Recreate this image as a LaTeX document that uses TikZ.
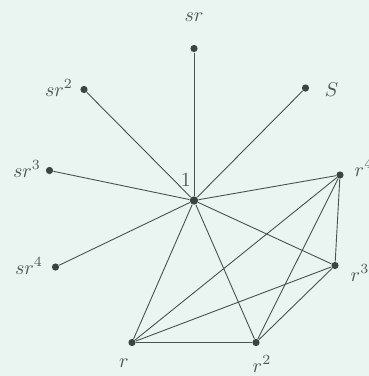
\documentclass[tikz,border=0pt]{standalone}
\usepackage{amsmath}
\usepackage{xcolor}
\definecolor{Canvas}{HTML}{EAF5F2}
\definecolor{Dot}{HTML}{3A4542}
\definecolor{Edge}{HTML}{4A524F}
\definecolor{Text}{HTML}{4E5856}

\begin{document}
\begin{tikzpicture}[
    x=0.5pt, y=-0.5pt,
    vertex/.style={
        circle,
        fill=Dot,
        inner sep=0pt,
        minimum size=3.6pt
    },
    hub/.style={
        circle,
        fill=Dot,
        inner sep=0pt,
        minimum size=4.2pt
    },
    edge/.style={
        draw=Edge,
        line width=0.45pt
    },
    labeltext/.style={
        text=Text,
        font=\normalsize,
        inner sep=0pt
    }
]

% Background
\fill[Canvas] (0,0) rectangle (369,376);
\useasboundingbox (0,0) rectangle (369,376);

% Vertices
\node[hub] (e) at (194,200.5) {};
\node[vertex] (sr) at (194,48.5) {};
\node[vertex] (s) at (305.5,88) {};
\node[vertex] (sr2) at (84,89.5) {};
\node[vertex] (sr3) at (49.5,170.5) {};
\node[vertex] (sr4) at (55.5,267) {};
\node[vertex] (r4) at (340,175) {};
\node[vertex] (r3) at (335,265.5) {};
\node[vertex] (r) at (132,342.5) {};
\node[vertex] (r2) at (256,342.5) {};

% Labels
\node[labeltext] (le) at (186,180) {$1$};
\node[labeltext] (lsr) at (194,17) {$sr$};
\node[labeltext] (ls) at (331.5,90) {$S$};
\node[labeltext] (lsr2) at (59,88) {$sr^2$};
\node[labeltext] (lsr3) at (27,169) {$sr^3$};
\node[labeltext] (lsr4) at (29,266) {$sr^4$};
\node[labeltext] (lr4) at (364,168) {$r^4$};
\node[labeltext] (lr3) at (360,273) {$r^3$};
\node[labeltext] (lr) at (124,363) {$r$};
\node[labeltext] (lr2) at (262,364) {$r^2$};

% Edges from the identity
\foreach \v in {sr,s,sr2,sr3,sr4,r4,r3,r,r2}
    \draw[edge] (e) -- (\v);

% Edges among the rotations
\draw[edge] (r) -- (r2);
\draw[edge] (r) -- (r3);
\draw[edge] (r) -- (r4);
\draw[edge] (r2) -- (r3);
\draw[edge] (r2) -- (r4);
\draw[edge] (r3) -- (r4);

\end{tikzpicture}
\end{document}
